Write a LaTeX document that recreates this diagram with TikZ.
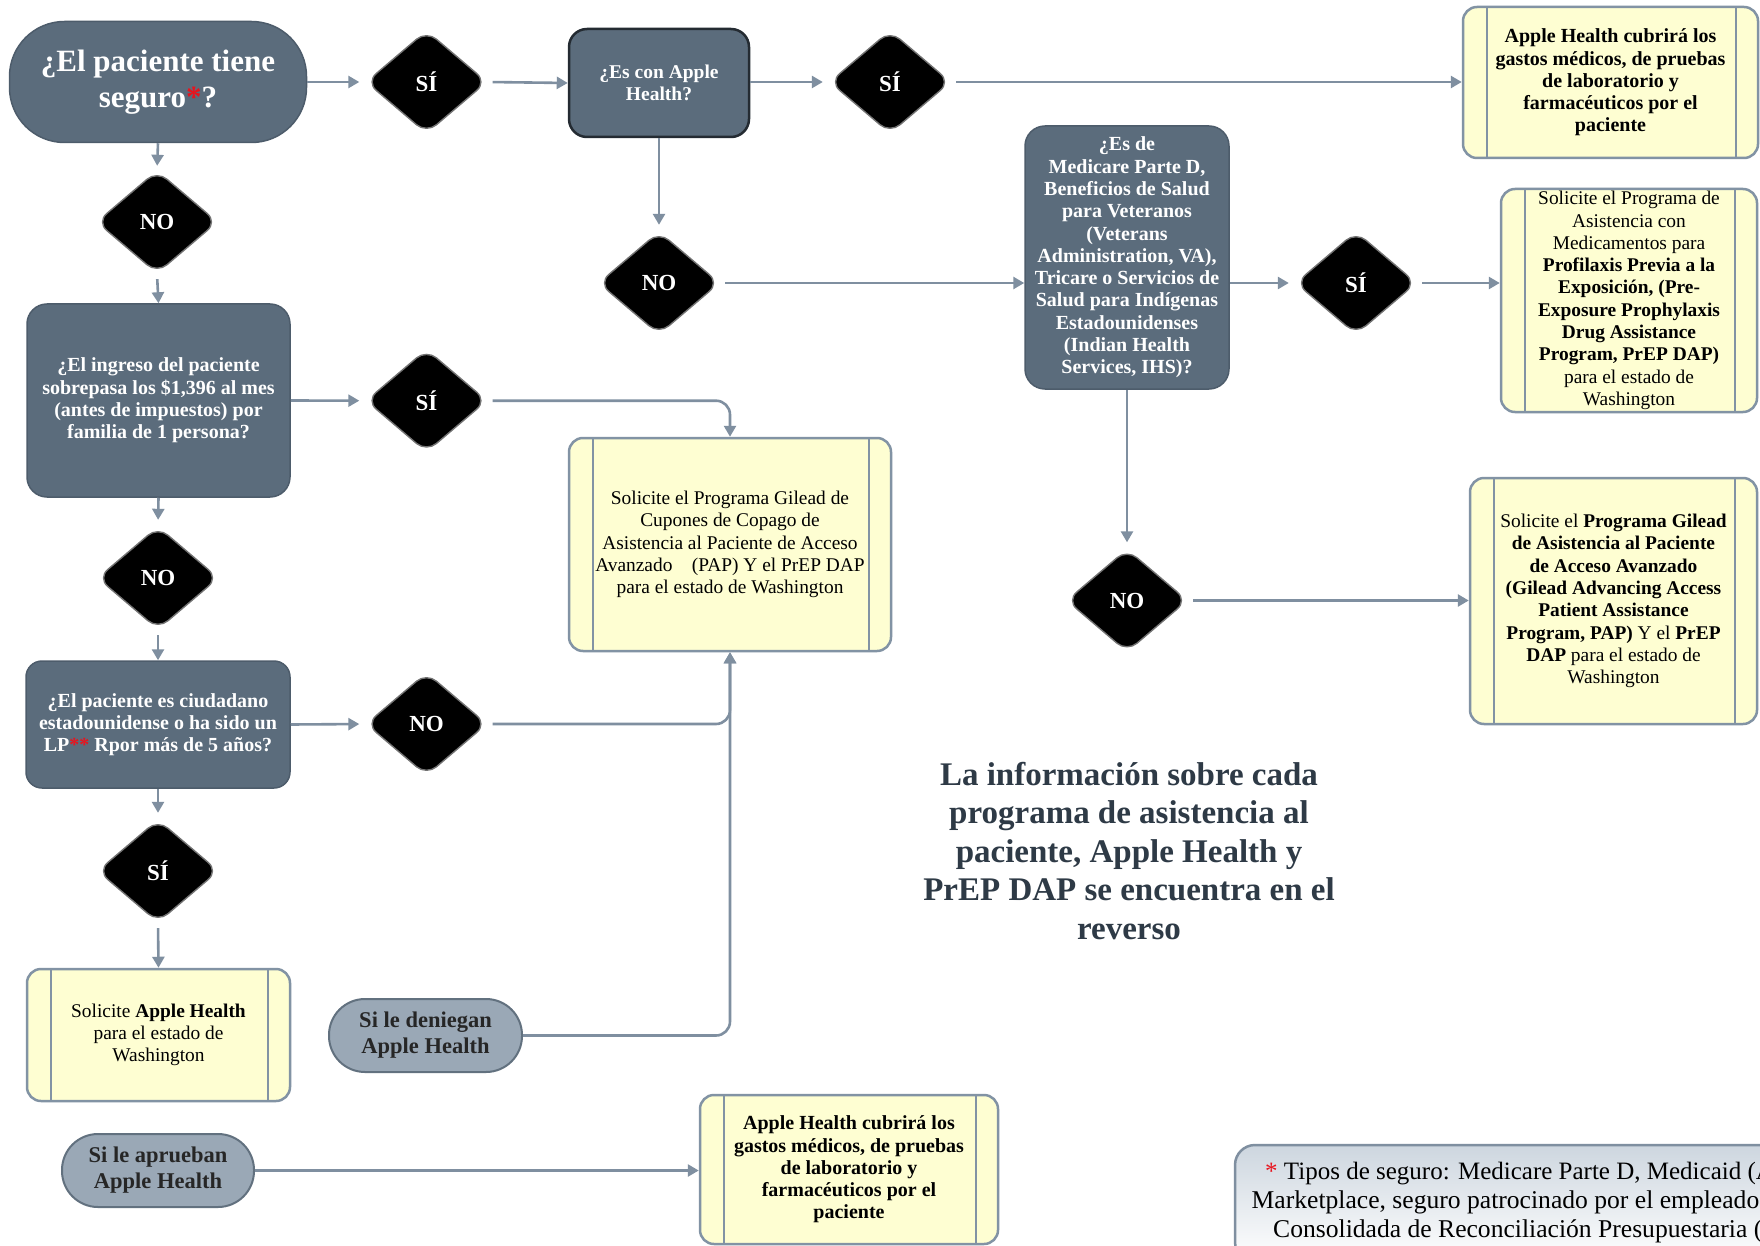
\documentclass[tikz,border=0pt]{standalone}
\usepackage{fontspec}
\setmainfont{Liberation Serif}
\usetikzlibrary{shapes.geometric,arrows.meta}
\definecolor{slate}{HTML}{5B6C7C}
\definecolor{slateb}{HTML}{4D5C6B}
\definecolor{arrowc}{HTML}{7F8FA0}
\definecolor{yel}{HTML}{FEFED2}
\definecolor{yelb}{HTML}{8293A4}
\definecolor{pillc}{HTML}{9AA8B6}
\definecolor{pillb}{HTML}{62717F}
\definecolor{txtdark}{HTML}{2E3A46}
\definecolor{redast}{HTML}{E8141E}
\definecolor{footc}{HTML}{CDD6DF}
\begin{document}
\begin{tikzpicture}[x=1pt,y=-1pt,
  dbox/.style={rectangle, rounded corners=20pt, fill=slate, draw=slateb, line width=1.5pt, text=white, align=center, inner sep=0pt, font=\fontsize{20}{22.3}\selectfont\bfseries},
  dia/.style={diamond, aspect=1.17, rounded corners=13pt, fill=black, draw=black!55, line width=1.4pt, minimum width=121pt, minimum height=103pt, inner sep=0pt, text=white, font=\fontsize{23}{26}\selectfont\bfseries},
  pbox/.style={rectangle, rounded corners=14pt, fill=yel, draw=yelb, line width=2.5pt, align=center, inner sep=0pt, font=\fontsize{19.4}{22.3}\selectfont,
     path picture={\draw[yelb, line width=2.5pt] ([xshift=24pt]path picture bounding box.north west) -- ([xshift=24pt]path picture bounding box.south west); \draw[yelb, line width=2.5pt] ([xshift=-22pt]path picture bounding box.north east) -- ([xshift=-22pt]path picture bounding box.south east);}},
  pboxb/.style={pbox, font=\fontsize{20}{22.3}\selectfont\bfseries},
  pill/.style={rectangle, rounded corners=36pt, fill=pillc, draw=pillb, line width=2pt, align=center, inner sep=0pt, text=black!85, font=\fontsize{22.5}{26}\selectfont\bfseries, minimum width=193pt, minimum height=73pt},
  arr/.style={draw=arrowc, line width=2.6pt, -{Triangle[length=11pt,width=12pt]}},
  fromd/.style={shorten <=5pt},
  tod/.style={shorten >=6pt},
]
\useasboundingbox (0,0) rectangle (1760,1246);
\fill[white] (0,0) rectangle (1760,1246);

% nodes
\node[dbox, rounded corners=55pt, minimum width=297pt, minimum height=121pt, font=\fontsize{31}{36}\selectfont\bfseries] (start) at (158,82) {¿El paciente tiene\\seguro\textcolor{redast}{*}?};
\node[dia] (si1) at (426.5,82) {SÍ};
\node[dbox, rounded corners=18pt, draw=black!60!slate, line width=2.5pt, minimum width=180pt, minimum height=108pt, font=\fontsize{19.5}{22.3}\selectfont\bfseries] (ah) at (659,83) {¿Es con Apple\\Health?};
\node[dia] (si2) at (890,82) {SÍ};
\node[pboxb, minimum width=295pt, minimum height=151pt] (tr) at (1610.5,82.5) {Apple Health cubrirá los\\gastos médicos, de pruebas\\de laboratorio y\\farmacéuticos por el\\paciente};
\node[dia] (no2) at (659,283) {NO};
\node[dbox, minimum width=204pt, minimum height=263pt] (med) at (1127,257.5) {¿Es de\\Medicare Parte D,\\Beneficios de Salud\\para Veteranos\\(Veterans\\Administration, VA),\\Tricare o Servicios de\\Salud para Indígenas\\Estadounidenses\\(Indian Health\\Services, IHS)?};
\node[dia] (si3) at (1356,283) {SÍ};
\node[pbox, minimum width=256pt, minimum height=223pt] (prep) at (1629,300.5) {Solicite el Programa de\\Asistencia con\\Medicamentos para\\\textbf{Profilaxis Previa a la}\\\textbf{Exposición, (Pre-}\\\textbf{Exposure Prophylaxis}\\\textbf{Drug Assistance}\\\textbf{Program, PrEP DAP)}\\para el estado de\\Washington};
\node[dia] (no3) at (1127,600.5) {NO};
\node[pbox, minimum width=287pt, minimum height=246pt] (gilR) at (1613.5,601) {Solicite el \textbf{Programa Gilead}\\\textbf{de Asistencia al Paciente}\\\textbf{de Acceso Avanzado}\\\textbf{(Gilead Advancing Access}\\\textbf{Patient Assistance}\\\textbf{Program, PAP)} Y el \textbf{PrEP}\\\textbf{DAP} para el estado de\\Washington};
\node[dia] (no1) at (157,222) {NO};
\node[dbox, minimum width=263pt, minimum height=193pt] (inc) at (158.5,400.5) {¿El ingreso del paciente\\sobrepasa los \$1,396 al mes\\(antes de impuestos) por\\familia de 1 persona?};
\node[dia] (si4) at (426.5,400.7) {SÍ};
\node[pbox, minimum width=322pt, minimum height=213pt] (gilC) at (730,544.5) {Solicite el Programa Gilead de\\Cupones de Copago de\\Asistencia al Paciente de Acceso\\Avanzado\quad(PAP) Y el PrEP DAP\\para el estado de Washington};
\node[dia] (no4) at (158,578) {NO};
\node[dbox, rounded corners=16pt, minimum width=264pt, minimum height=127pt] (cit) at (158,724.5) {¿El paciente es ciudadano\\estadounidense o ha sido un\\LP\textcolor{redast}{**} Rpor más de 5 años?};
\node[dia] (no5) at (426.5,724) {NO};
\node[dia] (si5) at (158,871) {SÍ};
\node[pbox, minimum width=263pt, minimum height=132pt] (sah) at (158.5,1035) {Solicite \textbf{Apple Health}\\para el estado de\\Washington};
\node[pill] (den) at (425.5,1035.5) {Si le deniegan\\Apple Health};
\node[pill, minimum width=192pt] (apr) at (158,1170.5) {Si le aprueban\\Apple Health};
\node[pboxb, minimum width=298pt, minimum height=149pt] (bah) at (849,1169.5) {Apple Health cubrirá los\\gastos médicos, de pruebas\\de laboratorio y\\farmacéuticos por el\\paciente};

\node[align=center, text=txtdark, font=\fontsize{33}{38.5}\selectfont\bfseries] (info) at (1129,851) {La información sobre cada\\programa de asistencia al\\paciente, Apple Health y\\PrEP DAP se encuentra en el\\reverso};

% connectors
\draw[arr, tod] (start.east) -- (si1.west);
\draw[arr, fromd] (si1.east) -- (ah.west);
\draw[arr, tod] (ah.east |- si2.west) -- (si2.west);
\draw[arr, fromd] (si2.east) -- (si2.east -| tr.west);
\draw[arr, tod] (ah.south) -- (no2.north);
\draw[arr, fromd] (no2.east) -- (no2.east -| med.west);
\draw[arr, tod] (med.east |- si3.west) -- (si3.west);
\draw[arr, fromd] (si3.east) -- (si3.east -| prep.west);
\draw[arr, tod] (med.south) -- (no3.north);
\draw[arr, fromd] (no3.east) -- (no3.east -| gilR.west);
\draw[arr, shorten >=4pt] (start.south) -- (no1.north);
\draw[arr, fromd] (no1.south) -- (inc.north);
\draw[arr, tod] (inc.east) -- (si4.west);
\draw[arr, fromd, rounded corners=14pt] (si4.east) -| (gilC.north);
\draw[arr, tod] (inc.south) -- (no4.north);
\draw[arr, fromd] (no4.south) -- (cit.north);
\draw[arr, tod] (cit.east) -- (no5.west);
\draw[arr, fromd, rounded corners=14pt] (no5.east) -| (gilC.south);
\draw[arr, tod] (cit.south) -- (si5.north);
\draw[arr, fromd] (si5.south) -- (sah.north);
\draw[arr, rounded corners=14pt] (den.east) -| (gilC.south);
\draw[arr] (apr.east) -- (apr.east -| bah.west);

% footnote box (cut by page edge)
\begin{scope}
\clip (0,0) rectangle (1760,1246);
\path[top color=footc, bottom color=white, draw=arrowc, line width=2.5pt, rounded corners=20pt] (1235,1145) rectangle (1800,1262);
\node[anchor=west, inner sep=0pt, font=\fontsize{25}{28}\selectfont] (fn1) at (1265,1174) {\textcolor{redast}{*} Tipos de seguro: Medicare Parte D, Medicaid (A};
\node[anchor=west, inner sep=0pt, font=\fontsize{25.6}{28}\selectfont] (fn2) at (1251.5,1202) {Marketplace, seguro patrocinado por el empleado};
\node[anchor=west, inner sep=0pt, font=\fontsize{25.6}{28}\selectfont] (fn3) at (1273,1231) {Consolidada de Reconciliación Presupuestaria (};
\end{scope}
\end{tikzpicture}
\end{document}
